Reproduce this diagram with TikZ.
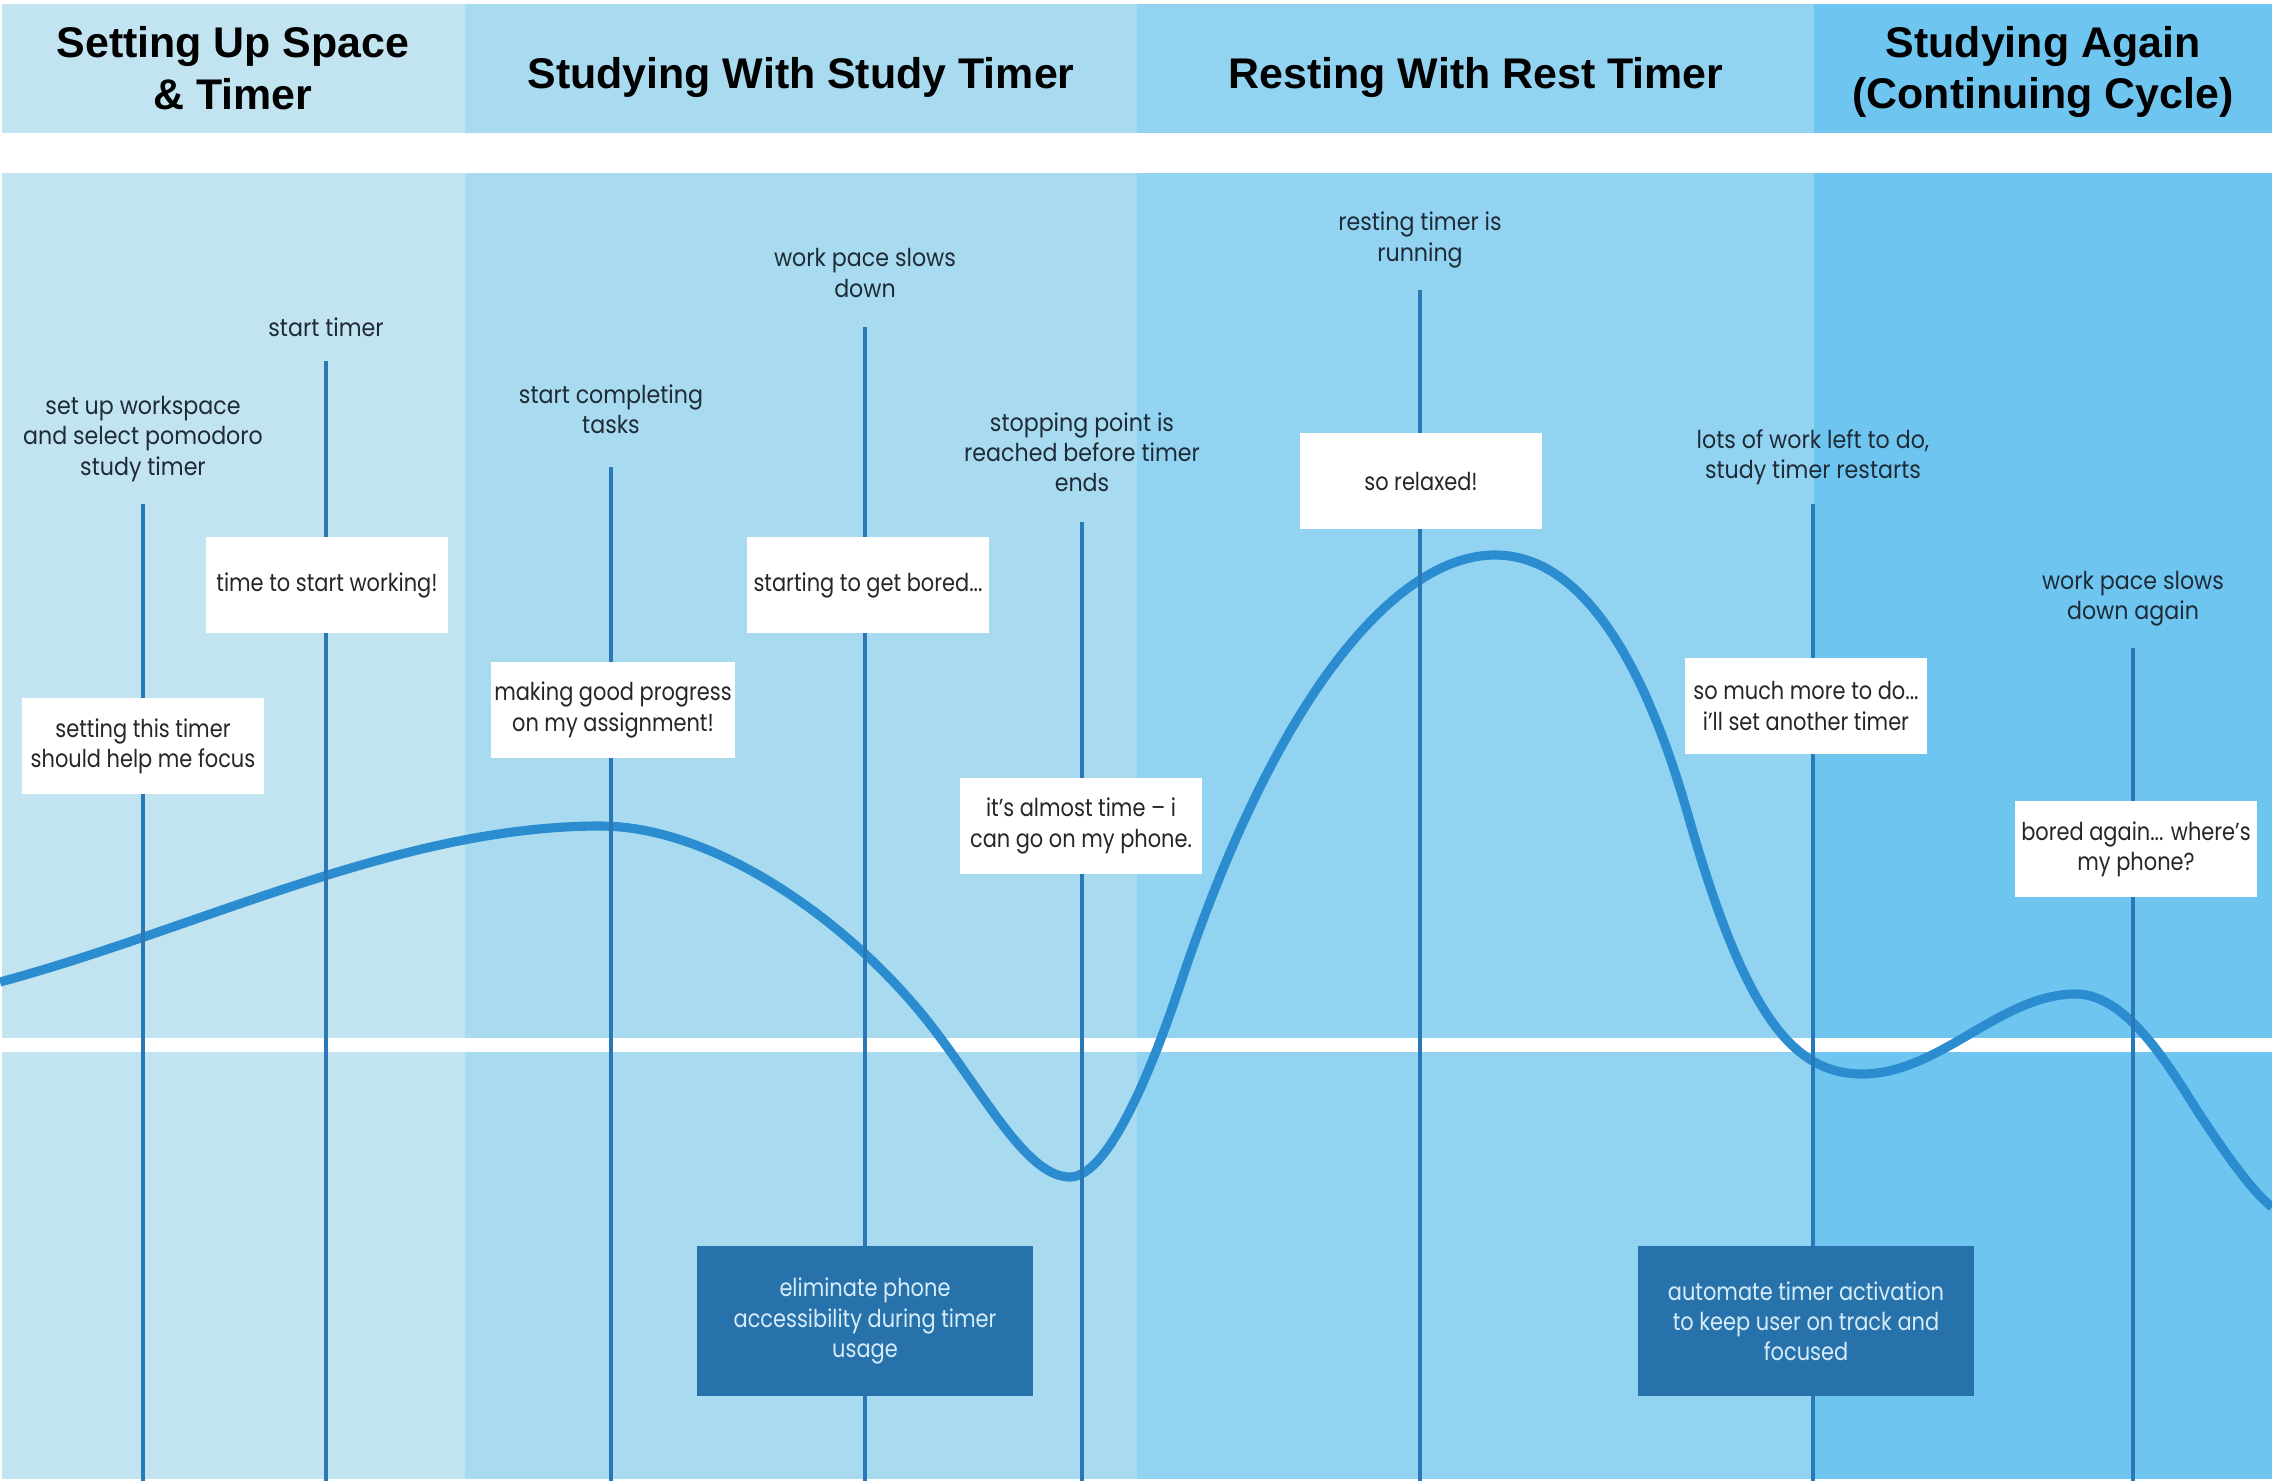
\documentclass[tikz,border=0pt]{standalone}
\usepackage{fontspec}
\setmainfont{Poppins}
\newfontfamily\headfont{Liberation Sans}
\newfontfamily\eventfont{Poppins}[FakeStretch=0.9]
\newfontfamily\thoughtfont{Poppins}[FakeStretch=0.85]
\usepackage{xcolor}
\usetikzlibrary{positioning}

\definecolor{phaseA}{HTML}{C2E4F0}
\definecolor{phaseB}{HTML}{A8DBEF}
\definecolor{phaseC}{HTML}{92D3F1}
\definecolor{phaseD}{HTML}{6EC6F0}
\definecolor{curveblue}{HTML}{2B8DCF}
\definecolor{stemblue}{HTML}{2A78B5}
\definecolor{ideablue}{HTML}{2872AC}
\definecolor{ideatext}{HTML}{D6ECF8}
\definecolor{labtext}{HTML}{1E2B36}

\begin{document}
\begin{tikzpicture}[x=0.01cm, y=-0.01cm,
    phase/.style={font=\headfont\bfseries\fontsize{12.2}{14.7}\selectfont, align=center, text=black},
    event/.style={font=\eventfont\fontsize{7}{8.6}\selectfont, align=center, text=labtext, inner sep=0pt},
    thought/.style={fill=white, minimum width=2.41cm, minimum height=0.96cm, inner sep=1pt,
      align=center, text=black!85, font=\thoughtfont\fontsize{7}{8.6}\selectfont},
    idea/.style={fill=ideablue, minimum width=3.36cm, minimum height=1.49cm, inner sep=1pt,
      align=center, text=ideatext, font=\thoughtfont\fontsize{7}{8.6}\selectfont},
    stem/.style={draw=stemblue, line width=1.1pt},
    mood/.style={draw=curveblue, line width=2.6pt}]
  \useasboundingbox (0,0) rectangle (2272,1481);
  \fill[white] (0,0) rectangle (2272,1481);

  % phase bands, header and body
  \fill[phaseA] (2,4) rectangle (465,133);
  \fill[phaseB] (465,4) rectangle (1137,133);
  \fill[phaseC] (1137,4) rectangle (1814,133);
  \fill[phaseD] (1814,4) rectangle (2272,133);
  \fill[phaseA] (2,173) rectangle (465,1479);
  \fill[phaseB] (465,173) rectangle (1137,1479);
  \fill[phaseC] (1137,173) rectangle (1814,1479);
  \fill[phaseD] (1814,173) rectangle (2272,1479);
  \fill[white] (2,1038) rectangle (2272,1052);

  \node[phase] (setup) at (233,68) {Setting Up Space\\\& Timer};
  \node[phase] (study) at (801,77) {Studying With Study Timer};
  \node[phase] (rest) at (1476,77) {Resting With Rest Timer};
  \node[phase] (again) at (2043,72) {Studying Again\\(Continuing Cycle)};

  % what happens
  \node[event] (ev1) at (143,439) {set up workspace\\and select pomodoro\\study timer};
  \node[event] (ev2) at (326,327) {start timer};
  \node[event] (ev3) at (611,409) {start completing\\tasks};
  \node[event] (ev4) at (865,273) {work pace slows\\down};
  \node[event] (ev5) at (1082,452) {stopping point is\\reached before timer\\ends};
  \node[event] (ev6) at (1420,240) {resting timer is\\running};
  \node[event] (ev7) at (1813,457) {lots of work left to do,\\study timer restarts};
  \node[event] (ev8) at (2133,599) {work pace slows\\down again};
  \coordinate (floor) at (0,1481);

  % emotion curve
  \draw[mood] (0,982) .. controls (200,928) and (400,826) .. (600,826)
    .. controls (720,826) and (862,930) .. (942,1040)
    .. controls (992,1108) and (1030,1177) .. (1070,1177)
    .. controls (1110,1177) and (1155,1060) .. (1180,985)
    .. controls (1280,685) and (1400,555) .. (1495,555)
    .. controls (1580,555) and (1643,657) .. (1688,815)
    .. controls (1743,1008) and (1790,1074) .. (1862,1074)
    .. controls (1940,1074) and (2000,994) .. (2076,994)
    .. controls (2130,994) and (2175,1077) .. (2200,1115)
    .. controls (2220,1145) and (2250,1190) .. (2272,1207);

  \draw[stem] (ev1 |- 0,504) -- (ev1 |- floor);
  \draw[stem] (ev2 |- 0,361) -- (ev2 |- floor);
  \draw[stem] (ev3 |- 0,467) -- (ev3 |- floor);
  \draw[stem] (ev4 |- 0,327) -- (ev4 |- floor);
  \draw[stem] (ev5 |- 0,522) -- (ev5 |- floor);
  \draw[stem] (ev6 |- 0,290) -- (ev6 |- floor);
  \draw[stem] (ev7 |- 0,504) -- (ev7 |- floor);
  \draw[stem] (ev8 |- 0,648) -- (ev8 |- floor);

  % what the user thinks
  \node[thought] (th1) at (143,746) {setting this timer\\should help me focus};
  \node[thought] (th2) at (327,585) {time to start working!};
  \node[thought] (th3) at (613,710) {making good progress\\on my assignment!};
  \node[thought] (th4) at (868,585) {starting to get bored...};
  \node[thought] (th5) at (1081,826) {it’s almost time – i\\can go on my phone.};
  \node[thought] (th6) at (1421,481) {so relaxed!};
  \node[thought] (th7) at (1806,706) {so much more to do...\\i’ll set another timer};
  \node[thought] (th8) at (2136,849) {bored again... where’s\\my phone?};

  % opportunities
  \node[idea] (fixA) at (865,1321) {eliminate phone\\accessibility during timer\\usage};
  \node[idea] (fixB) at (1806,1321) {automate timer activation\\to keep user on track and\\focused};
\end{tikzpicture}
\end{document}
